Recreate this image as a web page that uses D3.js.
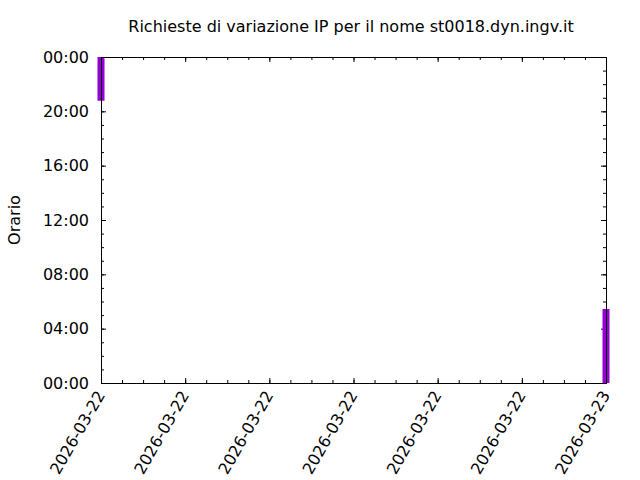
<!doctype html>
<html>
<head>
<meta charset="utf-8"/>
<style>
  html, body { margin: 0; padding: 0; background: #fff; }
  svg { display: block; }
  text { font-family: "DejaVu Sans", sans-serif; fill: #000; }
  .axis path { display: none; }
  .axis line { stroke: #000; stroke-width: 1; }
</style>
<script src="https://cdn.jsdelivr.net/npm/d3@7"></script>
</head>
<body>
<svg id="chart" width="640" height="480"></svg>
<script>
// data
var titleText = "Richieste di variazione IP per il nome st0018.dyn.ingv.it";
var yLabel = "Orario";
var xDomain = ["2026-03-22T00:00:00Z", "2026-03-23T00:00:00Z"];
var reqDates = ["2026-03-22T00:00:00Z", "2026-03-23T00:00:00Z"];
var reqFrom = [20.78, 0];     // hour of day, bottom of the bar
var reqTo = [24, 5.45];       // hour of day, top of the bar
var yTicks = [0, 4, 8, 12, 16, 20, 24];

var svg = d3.select("#chart");
var margin = {top: 57, right: 34, bottom: 97, left: 101};
var width = 640 - margin.left - margin.right;
var height = 480 - margin.top - margin.bottom;

var x = d3.scaleUtc()
    .domain(xDomain.map(function(d) { return new Date(d); }))
    .range([0, width]);
var y = d3.scaleLinear().domain([0, 24]).range([height, 0]);

var g = svg.append("g").attr("transform", "translate(" + margin.left + "," + margin.top + ")");

var fmtHour = function(h) { return d3.format("02d")(h % 24) + ":00"; };
var majorX = d3.utcHour.every(4).range(x.domain()[0], new Date(+x.domain()[1] + 1));
var minorX = d3.utcHour.every(1).range(x.domain()[0], new Date(+x.domain()[1] + 1));
var minorY = d3.range(0, 25, 1);

// minor ticks
g.append("g").attr("class", "axis")
    .call(d3.axisLeft(y).tickValues(minorY).tickSize(-3).tickFormat(""));
g.append("g").attr("class", "axis").attr("transform", "translate(" + width + ",0)")
    .call(d3.axisRight(y).tickValues(minorY).tickSize(-3).tickFormat(""));
g.append("g").attr("class", "axis").attr("transform", "translate(0," + height + ")")
    .call(d3.axisBottom(x).tickValues(minorX).tickSize(-3).tickFormat(""));
g.append("g").attr("class", "axis")
    .call(d3.axisTop(x).tickValues(minorX).tickSize(-3).tickFormat(""));

// major ticks
var yAxis = g.append("g").attr("class", "axis")
    .call(d3.axisLeft(y).tickValues(yTicks).tickSize(-5).tickPadding(12).tickFormat(fmtHour));
yAxis.selectAll("text").style("font-size", "16px");
g.append("g").attr("class", "axis").attr("transform", "translate(" + width + ",0)")
    .call(d3.axisRight(y).tickValues(yTicks).tickSize(-5).tickFormat(""));
var xAxis = g.append("g").attr("class", "axis").attr("transform", "translate(0," + height + ")")
    .call(d3.axisBottom(x).tickValues(majorX).tickSize(-5).tickFormat(d3.utcFormat("%Y-%m-%d")));
xAxis.selectAll("text")
    .style("font-size", "16px")
    .attr("text-anchor", "end")
    .attr("dy", null)
    .attr("y", 0)
    .attr("transform", "translate(4,12) rotate(-60)");
g.append("g").attr("class", "axis")
    .call(d3.axisTop(x).tickValues(majorX).tickSize(-5).tickFormat(""));

// bars, drawn over the ticks
var halfWidth = 10 * 60 * 1000; // 10 minutes each side
var bars = reqDates.map(function(d, i) {
    var t = new Date(d);
    return {t: t, from: reqFrom[i], to: reqTo[i]};
});
g.selectAll("rect.req").data(bars).enter().append("rect")
    .attr("class", "req")
    .attr("x", function(d) { return x(new Date(+d.t - halfWidth)); })
    .attr("width", function(d) { return x(new Date(+d.t + halfWidth)) - x(new Date(+d.t - halfWidth)); })
    .attr("y", function(d) { return y(d.to); })
    .attr("height", function(d) { return y(d.from) - y(d.to); })
    .attr("fill", "#9400d3");

// border on top
g.append("rect")
    .attr("width", width).attr("height", height)
    .attr("fill", "none").attr("stroke", "#000").attr("stroke-width", 1)
    .attr("shape-rendering", "crispEdges");

svg.append("text")
    .attr("x", 351).attr("y", 32)
    .attr("text-anchor", "middle")
    .style("font-size", "16px")
    .text(titleText);

svg.append("text")
    .attr("transform", "translate(20," + (margin.top + height / 2) + ") rotate(-90)")
    .attr("text-anchor", "middle")
    .style("font-size", "16px")
    .text(yLabel);
</script>
</body>
</html>
